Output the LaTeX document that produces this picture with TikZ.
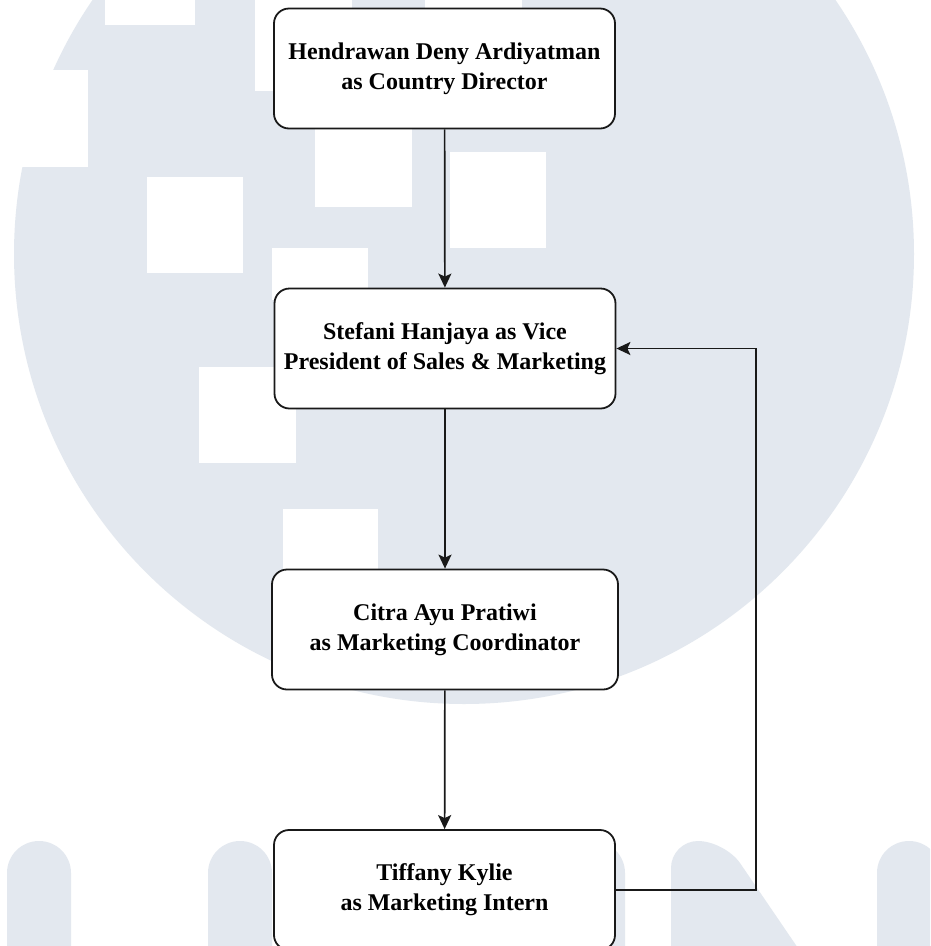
\documentclass[tikz,border=0pt]{standalone}
\usepackage{fontspec}
\setmainfont{Liberation Serif}
\usetikzlibrary{arrows.meta}
\definecolor{wm}{RGB}{227,232,239}
\definecolor{ink}{RGB}{25,25,25}
\tikzset{
  box/.style={draw=ink, line width=1.8pt, fill=white, rounded corners=15pt,
    minimum width=341pt, minimum height=120pt, align=center, inner sep=0pt,
    font=\fontsize{24}{30}\selectfont\bfseries, text=black},
  arr/.style={draw=ink, line width=1.7pt, -{Stealth[length=14pt,width=13pt,inset=3pt]}},
  wmfill/.style={fill=wm},
  hole/.style={fill=white}
}
\begin{document}
\begin{tikzpicture}[x=1pt,y=-1pt]
\useasboundingbox (0,0) rectangle (930,946);
\begin{scope}
\clip (0,0) rectangle (930,946);
\fill[white] (0,0) rectangle (930,946);
% watermark circle
\fill[wmfill] (464,254) circle [radius=450pt];
% white squares of the watermark
\fill[hole] (-10,70) rectangle (88,167);
\fill[hole] (105,-10) rectangle (195,25);
\fill[hole] (255,-10) rectangle (352,91);
\fill[hole] (425,-10) rectangle (522,60);
\fill[hole] (147,177) rectangle (243,273);
\fill[hole] (315,110) rectangle (412,207);
\fill[hole] (450,152) rectangle (546,248);
\fill[hole] (272,248) rectangle (368,300);
\fill[hole] (199,367) rectangle (296,463);
\fill[hole] (283,509) rectangle (378,600);
% bottom letter shapes
\fill[wmfill, rounded corners=32pt] (7,841) rectangle (71,1020);
\fill[wmfill, rounded corners=32pt] (208,841) rectangle (272,1020);
\fill[wmfill, rounded corners=32pt] (561,841) rectangle (625,1020);
\fill[wmfill, rounded corners=27pt] (671,1020) -- (671,841) -- (725,841) -- (847,1020) -- cycle;
\fill[wmfill, rounded corners=32pt] (877,841) rectangle (941,1020);
\end{scope}
% nodes
\node[box] (b1) at (444.5,68.5) {Hendrawan Deny Ardiyatman\\as Country Director};
\node[box] (b2) at (445,348.5) {Stefani Hanjaya as Vice\\President of Sales \& Marketing};
\node[box, minimum width=346pt] (b3) at (445,629.5) {Citra Ayu Pratiwi\\as Marketing Coordinator};
\node[box] (b4) at (444.5,890) {Tiffany Kylie\\as Marketing Intern};
% connectors
\draw[arr] (b1) -- (b2);
\draw[arr] (b2) -- (b3);
\draw[arr] (b3) -- (b4);
\coordinate (turn) at (756,890);
\draw[arr] (b4.east) -- (turn) |- (b2.east);
\end{tikzpicture}
\end{document}
